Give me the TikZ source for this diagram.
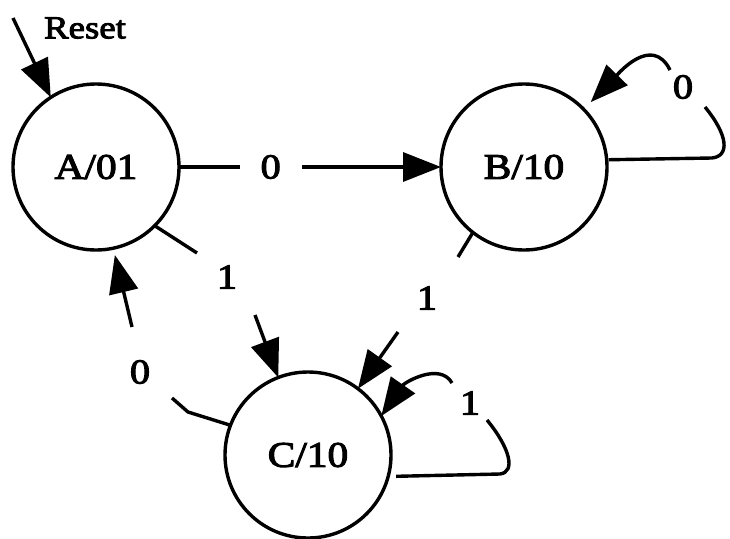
\documentclass[tikz,border=0pt]{standalone}
\usepackage{fontspec}
\setmainfont{Liberation Serif}[FakeStretch=1.15,FakeBold=3]
\usetikzlibrary{arrows.meta}
\begin{document}
\begin{tikzpicture}[x=1pt,y=-1pt,
  state/.style={circle,draw,line width=3.4pt,minimum size=166pt,inner sep=0pt,outer sep=0pt,font=\fontsize{36}{38}\selectfont},
  lab/.style={font=\fontsize{35}{37}\selectfont,inner sep=0pt},
  conn/.style={line width=3.4pt},
  arr/.style={conn,-{Triangle[length=38pt,width=29pt]}},
]
\useasboundingbox (0,0) rectangle (730,538);
\node[state] (A) at (96,167) {A/01};
\node[state] (B) at (524,167) {B/10};
\node[state] (C) at (308,455) {C/10};
% reset
\node[font=\fontsize{32}{34}\selectfont,inner sep=0pt] (reset) at (85,28) {Reset};
\coordinate (r0) at (13,18);
\draw[arr] (r0) -- (A.123);
% A -> B
\draw[arr] (A) -- node[pos=.35,fill=white,inner xsep=21pt,inner ysep=4pt,font=\fontsize{35}{37}\selectfont] (l0ab) {0} (B);
% A -> C
\coordinate (ac1) at (197,253);
\coordinate (ac2) at (255,315);
\node[lab] (l1ac) at (227,277) {1};
\draw[conn] (A.-45) -- (ac1);
\draw[arr] (ac2) -- (C.111);
% B -> C
\coordinate (bc1) at (458,257);
\coordinate (bc2) at (398,332);
\node[lab] (l1bc) at (427,298) {1};
\draw[conn] (B.-128) -- (bc1);
\draw[arr] (bc2) -- (C.53);
% C -> A
\coordinate (ca0) at (188,412);
\coordinate (ca1) at (172,398);
\coordinate (ca2) at (132,327);
\node[lab] (l0ca) at (140,372) {0};
\draw[conn] (C.159) -- (ca0) -- (ca1);
\draw[arr,shorten >=7pt] (ca2) -- (A.-78);
% B loop
\coordinate (bl1) at (712,158);
\coordinate (bl2) at (705,107);
\coordinate (bl3) at (670,70);
\node[lab] (l0bb) at (683,87) {0};
\draw[conn,shorten <=2pt] (B.5) -- (bl1) .. controls (730,156) and (728,135) .. (bl2);
\draw[arr,shorten >=10pt] (bl3) .. controls (652,34) and (618,74) .. (B.44);
% C loop
\coordinate (cl1) at (500,474);
\coordinate (cl2) at (487,420);
\coordinate (cl3) at (452,383);
\node[lab] (l1cc) at (470,403) {1};
\draw[conn,shorten <=8pt] (C.-15) -- (cl1) .. controls (516,472) and (510,448) .. (cl2);
\draw[arr] (cl3) .. controls (440,362) and (405,382) .. (C.28);
\end{tikzpicture}
\end{document}
